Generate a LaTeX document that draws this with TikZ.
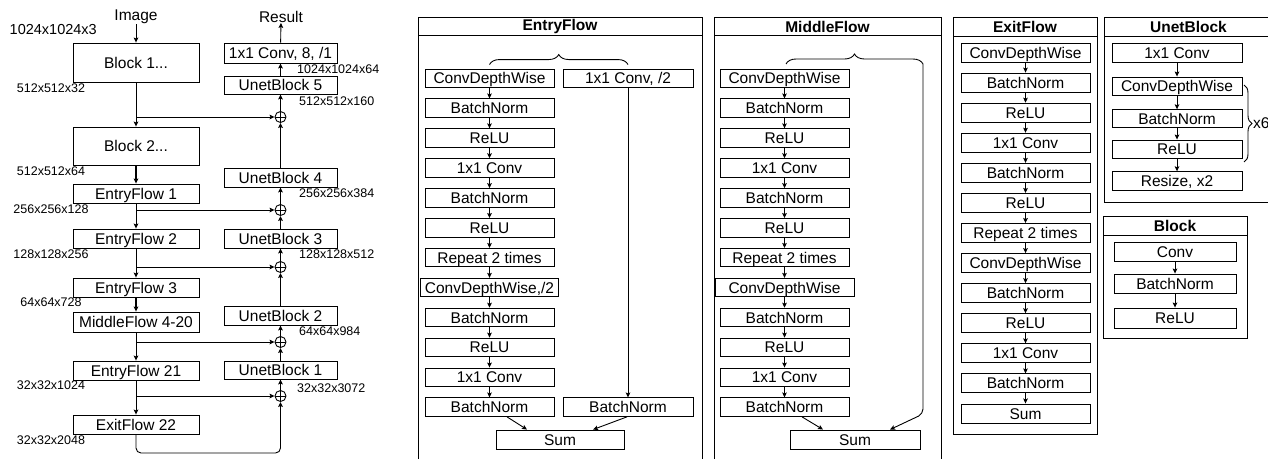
\documentclass[tikz,border=0pt]{standalone}
\usepackage{fontspec}
\setmainfont{Liberation Sans}
\usetikzlibrary{arrows.meta,decorations.pathreplacing,calc}
\begin{document}
\begin{tikzpicture}[x=1pt,y=-1pt,
  bx/.style={draw=black, fill=white, line width=0.9pt, inner sep=0pt,
    font=\fontsize{15.5}{17}\selectfont, text height=12.2pt, text depth=1.1pt,
    minimum height=18.5pt},
  lab/.style={font=\fontsize{12.5}{14}\selectfont, inner sep=0pt},
  ttl/.style={font=\fontsize{15.5}{17}\selectfont\bfseries, inner sep=0pt},
  frame/.style={draw=black, line width=0.9pt},
  arr/.style={-{Stealth[length=5pt,width=4.6pt,inset=1pt]}, line width=0.9pt},
  thk/.style={arr, line width=1.8pt},
  brc/.style={decorate, line width=0.9pt},
  sumc/.style={circle, draw=black, fill=white, line width=0.9pt, minimum size=11pt, inner sep=0pt,
    path picture={\draw[line width=0.8pt] (path picture bounding box.north) -- (path picture bounding box.south)
      (path picture bounding box.west) -- (path picture bounding box.east);}}
]
\useasboundingbox (0,0) rectangle (1268,459);
\clip (0,0) rectangle (1268,459);
\fill[white] (0,0) rectangle (1268,459);

% ---------------- left network ----------------
\node[font=\fontsize{15.5}{17}\selectfont, inner sep=0pt] (img) at (136,17) {Image};
\node[font=\fontsize{15.5}{17}\selectfont, inner sep=0pt] (res) at (281,17) {Result};
\node[font=\fontsize{14.5}{16}\selectfont, inner sep=0pt, anchor=east] (l0) at (97,30) {1024x1024x3};

\node[bx, minimum width=126pt, minimum height=39pt] (b1) at (136,62.5) {Block 1...};
\node[bx, minimum width=126pt, minimum height=38pt] (b2) at (136,146) {Block 2...};
\node[bx, minimum width=126pt, minimum height=19pt] (f1) at (136,193.5) {EntryFlow 1};
\node[bx, minimum width=126pt, minimum height=19pt] (f2) at (136,238.5) {EntryFlow 2};
\node[bx, minimum width=126pt, minimum height=19pt] (f3) at (136,287.5) {EntryFlow 3};
\node[bx, minimum width=126pt, minimum height=20pt] (mf) at (136,322) {MiddleFlow 4-20};
\node[bx, minimum width=126pt, minimum height=19pt] (f21) at (136,370.5) {EntryFlow 21};
\node[bx, minimum width=126pt, minimum height=19pt] (x22) at (136,424.5) {ExitFlow 22};

\node[bx, minimum width=113pt, minimum height=20pt] (c8) at (280.5,53) {1x1 Conv, 8, /1};
\node[bx, minimum width=113pt, minimum height=18pt] (u5) at (280.5,85) {UnetBlock 5};
\node[bx, minimum width=113pt, minimum height=19pt] (u4) at (280.5,177.5) {UnetBlock 4};
\node[bx, minimum width=113pt, minimum height=19pt] (u3) at (280.5,238.5) {UnetBlock 3};
\node[bx, minimum width=113pt, minimum height=19pt] (u2) at (280.5,315.5) {UnetBlock 2};
\node[bx, minimum width=113pt, minimum height=18pt] (u1) at (280.5,370) {UnetBlock 1};

\node[sumc] (p1) at (280.5,117) {};
\node[sumc] (p2) at (280.5,210) {};
\node[sumc] (p3) at (280.5,267) {};
\node[sumc] (p4) at (280.5,342) {};
\node[sumc] (p5) at (280.5,396) {};

\node[lab] (la1) at (51,88) {512x512x32};
\node[lab] (la2) at (51,171) {512x512x64};
\node[lab] (la3) at (51,209) {256x256x128};
\node[lab] (la4) at (51,254) {128x128x256};
\node[lab] (la5) at (51,302) {64x64x728};
\node[lab] (la6) at (51,385.5) {32x32x1024};
\node[lab] (la7) at (51,440) {32x32x2048};

\node[lab, anchor=west] (ra1) at (297,69) {1024x1024x64};
\node[lab, anchor=west] (ra2) at (299,101) {512x512x160};
\node[lab, anchor=west] (ra3) at (299,193) {256x256x384};
\node[lab, anchor=west] (ra4) at (299,254) {128x128x512};
\node[lab, anchor=west] (ra5) at (299,331) {64x64x984};
\node[lab, anchor=west] (ra6) at (297,388) {32x32x3072};

\draw[arr] (img) -- (b1);
\draw[arr] (b1) -- (b2);
\draw[thk] (b2) -- (f1);
\draw[arr] (f1) -- (f2);
\draw[arr] (f2) -- (f3);
\draw[thk] (f3) -- (mf);
\draw[arr] (mf) -- (f21);
\draw[arr] (f21) -- (x22);

\draw[arr] (b1 |- p1) -- (p1);
\draw[arr] (f1 |- p2) -- (p2);
\draw[arr] (f2 |- p3) -- (p3);
\draw[arr] (mf |- p4) -- (p4);
\draw[arr] (f21 |- p5) -- (p5);

\coordinate (bot) at (280.5,453);
\draw[arr, rounded corners=5pt] (x22.south) |- (bot) -- (p5.south);
\draw[arr] (p5) -- (u1);
\draw[arr] (u1) -- (p4);
\draw[arr] (p4) -- (u2);
\draw[arr] (u2) -- (p3);
\draw[arr] (p3) -- (u3);
\draw[arr] (u3) -- (p2);
\draw[arr] (p2) -- (u4);
\draw[arr] (u4) -- (p1);
\draw[arr] (p1) -- (u5);
\draw[arr] (u5) -- (c8);
\draw[arr] (c8) -- (res);

% ---------------- EntryFlow ----------------
\draw[frame] (418,459) -- (418,17) -- (702,17) -- (702,459);
\draw[frame] (418,35) -- (702,35);
\node[ttl] (te) at (560,26.5) {EntryFlow};
\foreach \k/\t in {0/ConvDepthWise,1/BatchNorm,2/ReLU,3/1x1 Conv,4/BatchNorm,5/ReLU,6/Repeat 2 times,8/BatchNorm,9/ReLU,10/1x1 Conv,11/BatchNorm}
  \node[bx, minimum width=129pt] (e\k) at (489.5,78.25+29.9*\k) {\t};
\node[bx, minimum width=138pt] (e7) at (489.5,287.55) {ConvDepthWise,/2};
\foreach \k [remember=\k as \p (initially 0)] in {1,...,11}
  \draw[arr] (e\p) -- (e\k);
\node[bx, minimum width=130pt] (r0) at (628,78.25) {1x1 Conv, /2};
\node[bx, minimum width=130pt] (r11) at (628,407.15) {BatchNorm};
\draw[arr] (r0) -- (r11);
\node[bx, minimum width=128pt, minimum height=19pt] (esum) at (560,439.5) {Sum};
\draw[arr] ($(e11.south)+(17.5,0)$) -- ($(esum.north)+(-33,0)$);
\draw[arr] ($(r11.south)+(-1,0)$) -- ($(esum.north)+(33,0)$);
\draw[brc, decoration={brace, amplitude=10pt}] ([yshift=4pt]e0.north) -- ([yshift=4pt]r0.north);

% ---------------- MiddleFlow ----------------
\draw[frame] (714,459) -- (714,17) -- (941,17) -- (941,459);
\draw[frame] (714,35) -- (941,35);
\node[ttl] (tm) at (827.5,26.5) {MiddleFlow};
\foreach \k/\t in {0/ConvDepthWise,1/BatchNorm,2/ReLU,3/1x1 Conv,4/BatchNorm,5/ReLU,6/Repeat 2 times,8/BatchNorm,9/ReLU,10/1x1 Conv,11/BatchNorm}
  \node[bx, minimum width=129pt] (m\k) at (784.5,78.25+29.9*\k) {\t};
\node[bx, minimum width=139pt] (m7) at (784.5,287.55) {ConvDepthWise};
\foreach \k [remember=\k as \p (initially 0)] in {1,...,11}
  \draw[arr] (m\p) -- (m\k);
\node[bx, minimum width=130pt, minimum height=19pt] (msum) at (855,439.5) {Sum};
\draw[arr] ($(m11.south)+(17.5,0)$) -- ($(msum.north)+(-32,0)$);
\coordinate (ml) at (786,64);
\coordinate (mr) at (923,64);
\coordinate (mrb) at (923,414);
\draw[brc, decoration={brace, amplitude=10pt}] (ml) -- (mr);
\draw[arr, rounded corners=5pt] (mr) -- (mrb) -- ($(msum.north)+(35,0)$);

% ---------------- ExitFlow ----------------
\draw[frame] (953,17) rectangle (1097,434);
\draw[frame] (953,36) -- (1097,36);
\node[ttl] (tx) at (1025,26.5) {ExitFlow};
\foreach \k/\t in {0/ConvDepthWise,1/BatchNorm,2/ReLU,3/1x1 Conv,4/BatchNorm,5/ReLU,6/Repeat 2 times,7/ConvDepthWise,8/BatchNorm,9/ReLU,10/1x1 Conv,11/BatchNorm,12/Sum}
  \node[bx, minimum width=129pt, minimum height=19pt] (x\k) at (1025.5,52.5+30.08*\k) {\t};
\foreach \k [remember=\k as \p (initially 0)] in {1,...,12}
  \draw[arr] (x\p) -- (x\k);

% ---------------- UnetBlock ----------------
\draw[frame] (1275,17) -- (1104,17) -- (1104,202) -- (1275,202);
\draw[frame] (1104,36) -- (1275,36);
\node[ttl] (tu) at (1188.5,26.5) {UnetBlock};
\node[bx, minimum width=130pt, minimum height=19pt] (ua) at (1177,52.5) {1x1 Conv};
\node[bx, minimum width=130pt, minimum height=18pt] (ub) at (1177,86) {ConvDepthWise};
\node[bx, minimum width=130pt, minimum height=17.5pt] (uc) at (1177,118.5) {BatchNorm};
\node[bx, minimum width=130pt, minimum height=18pt] (ud) at (1177,149) {ReLU};
\node[bx, minimum width=130pt, minimum height=18.5pt] (ue) at (1177,181) {Resize, x2};
\draw[arr] (ua) -- (ub);
\draw[arr] (ub) -- (uc);
\draw[arr] (uc) -- (ud);
\draw[arr] (ud) -- (ue);
\coordinate (bt) at (1244,85);
\coordinate (bb) at (1244,162);
\draw[brc, decoration={brace, amplitude=8pt}] (bt) -- (bb);
\node[font=\fontsize{15.5}{17}\selectfont, inner sep=0pt, anchor=west] (x6) at (1253,123.5) {x6};

% ---------------- Block ----------------
\draw[frame] (1103,216) rectangle (1247,338);
\draw[frame] (1103,235) -- (1247,235);
\node[ttl] (tb) at (1175,225.5) {Block};
\node[bx, minimum width=122pt, minimum height=19pt] (ka) at (1175,251.5) {Conv};
\node[bx, minimum width=122pt, minimum height=19pt] (kb) at (1175,283.5) {BatchNorm};
\node[bx, minimum width=122pt, minimum height=20pt] (kc) at (1175,318) {ReLU};
\draw[arr] (ka) -- (kb);
\draw[arr] (kb) -- (kc);
\end{tikzpicture}
\end{document}
